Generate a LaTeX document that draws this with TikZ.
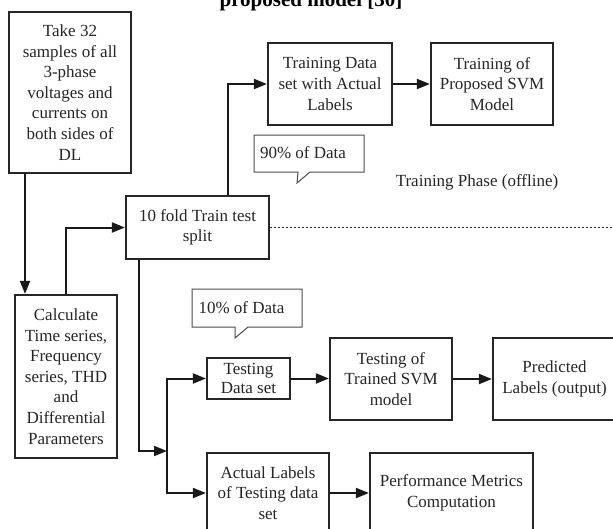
\documentclass[tikz,border=0pt]{standalone}
\usepackage{fontspec}
\setmainfont{Liberation Serif}
\usetikzlibrary{arrows.meta}
\begin{document}
\begin{tikzpicture}[x=1pt,y=-1pt,
  box/.style={draw=black!85,line width=2.2pt,align=center,inner sep=0pt,
    font=\fontsize{17}{20.6}\selectfont,text=black!85},
  arr/.style={line width=2pt,draw=black!90,-{Triangle[length=13pt,width=10pt]}},
  callout/.style={draw=black!70,line width=1pt},
  plain/.style={inner sep=0pt,font=\fontsize{17}{20.6}\selectfont,text=black!85}]
\useasboundingbox (0,0) rectangle (613,528);
\clip (0,0) rectangle (613,528);
\fill[white] (0,0) rectangle (613,528);
% title (cut off at top, as in the source)
\node[anchor=base,inner sep=0pt,font=\fontsize{21}{24}\bfseries] (title) at (311,6) {proposed model [30]};
% boxes
\node[box,minimum width=122pt,minimum height=161pt] (A) at (70,92.5)
  {Take 32\\samples of all\\3-phase\\voltages and\\currents on\\both sides of\\DL};
\node[box,minimum width=124pt,minimum height=82pt] (Train) at (330,84)
  {Training Data\\set with Actual\\Labels};
\node[box,minimum width=122pt,minimum height=82pt] (TrainOf) at (492,84)
  {Training of\\Proposed SVM\\Model};
\node[box,minimum width=143pt,minimum height=63pt] (Split) at (197.5,227.5)
  {10 fold Train test\\split};
\node[box,minimum width=102pt,minimum height=163pt] (Calc) at (66,376.5)
  {Calculate\\Time series,\\Frequency\\series, THD\\and\\Differential\\Parameters};
\node[box,minimum width=83pt,minimum height=41pt,
  font=\fontsize{17}{19.5}\selectfont] (TestData) at (248.5,378.5)
  {Testing\\Data set};
\node[box,minimum width=122pt,minimum height=82pt] (TestOf) at (391,379)
  {Testing of\\Trained SVM\\model};
\node[box,minimum width=123pt,minimum height=82pt] (Pred) at (554.5,379)
  {Predicted\\Labels (output)};
\node[box,minimum width=122pt,minimum height=80pt] (Actual) at (268,493)
  {Actual Labels\\of Testing data\\set};
\node[box,minimum width=163pt,minimum height=80pt] (Perf) at (451.5,493)
  {Performance Metrics\\Computation};
% callouts
\draw[callout] (254,135) -- (364,135) -- (364,172) -- (310,172) -- (297,183) -- (298,172) -- (254,172) -- cycle;
\node[plain] (p90) at (303,153) {90\% of Data};
\draw[callout] (192,289) -- (302,289) -- (302,327) -- (248,327) -- (235,338) -- (235,327) -- (192,327) -- cycle;
\node[plain] (p10) at (241.5,308) {10\% of Data};
\node[plain] (phase) at (477,182) {Training Phase (offline)};
% coordinates
\coordinate (x1) at (25,0);
\coordinate (x2) at (66,0);
\coordinate (x3) at (228,0);
\coordinate (x4) at (139,0);
\coordinate (J) at (167,451);
\coordinate (dend) at (613,227.5);
% connectors
\draw[arr] (x1 |- A.south) -- (x1 |- Calc.north);
\draw[arr] (x2 |- Calc.north) |- (Split.west);
\draw[arr] (x3 |- Split.north) |- (Train.west);
\draw[arr] (Train.east) -- (TrainOf.west);
\draw[line width=1.5pt,draw=black!85,dash pattern=on 2.2pt off 1.8pt] (Split.east) -- (dend);
\draw[arr] (x4 |- Split.south) |- (J);
\draw[arr] (J) |- (TestData.west);
\draw[arr] (J) |- (Actual.west);
\draw[arr] (TestData.east) -- (TestData.east -| TestOf.west);
\draw[arr] (TestOf.east) -- (Pred.west);
\draw[arr] (Actual.east) -- (Perf.west);
\end{tikzpicture}
\end{document}
